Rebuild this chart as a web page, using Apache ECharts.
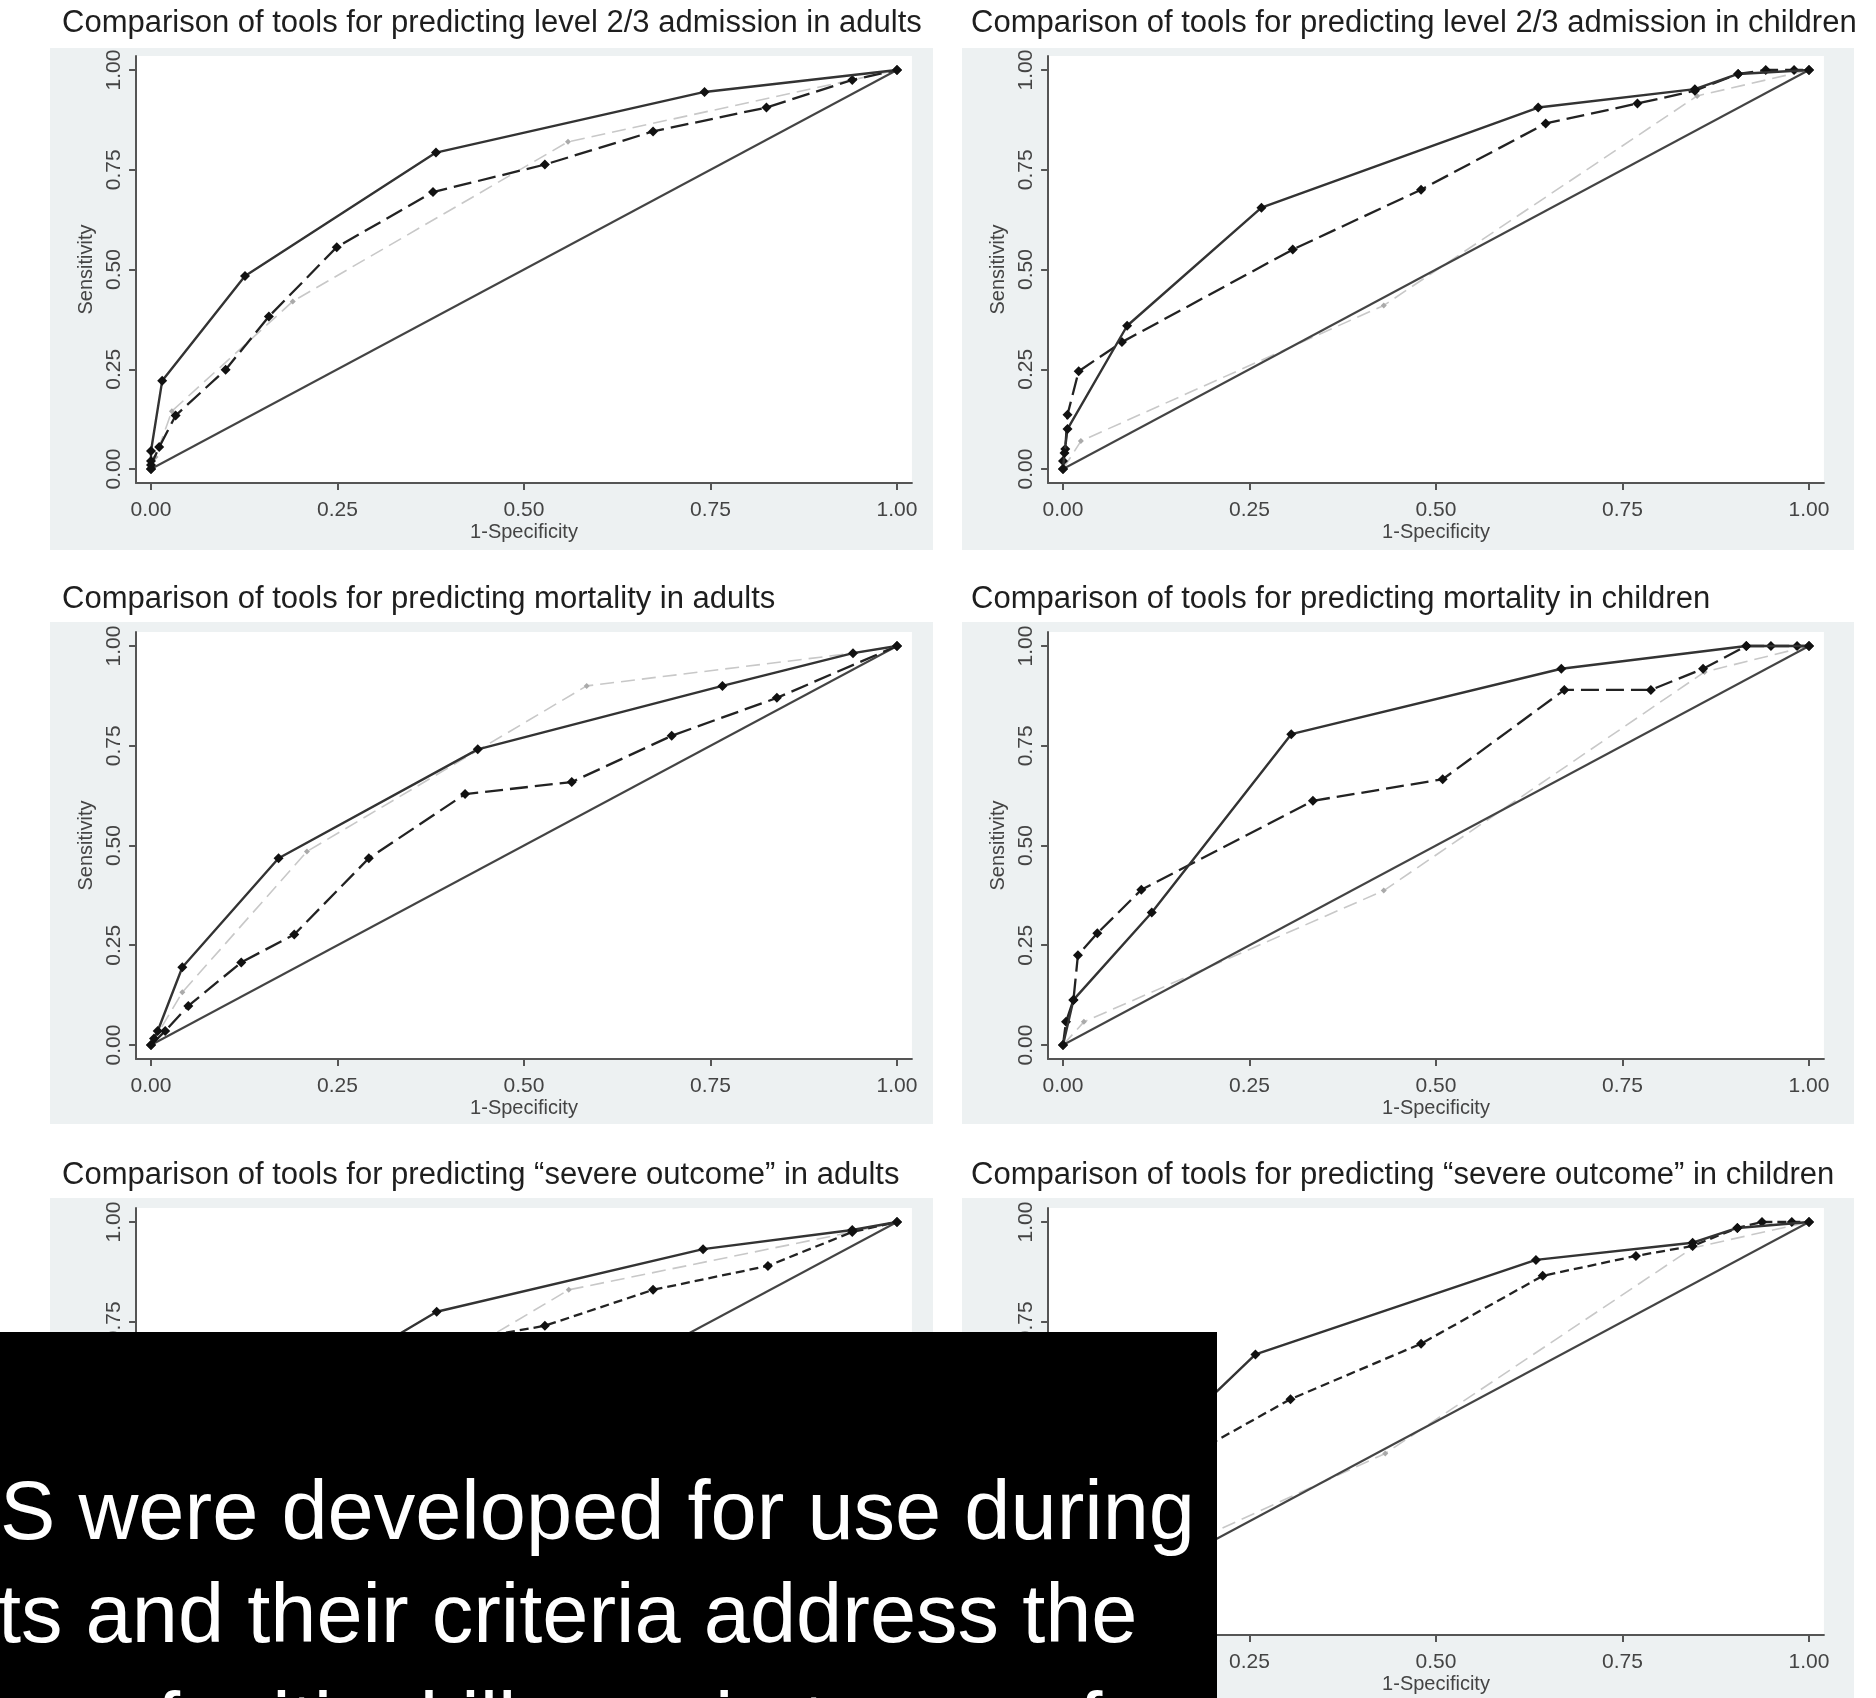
<!DOCTYPE html>
<html>
<head>
<meta charset="utf-8">
<title>Comparison of triage tools - ROC curves</title>
<script src="https://cdn.jsdelivr.net/npm/echarts@6/dist/echarts.min.js"></script>
<style>
  html, body { margin: 0; padding: 0; background: #fff; }
  #main { width: 1876px; height: 1698px; }
</style>
</head>
<body>
<div id="main"></div>
<script>
// tick labels on both axes
var tickValues = [0, 0.25, 0.5, 0.75, 1];

var panelTitles = [
  'Comparison of tools for predicting level 2/3 admission in adults',
  'Comparison of tools for predicting level 2/3 admission in children',
  'Comparison of tools for predicting mortality in adults',
  'Comparison of tools for predicting mortality in children',
  'Comparison of tools for predicting \u201csevere outcome\u201d in adults',
  'Comparison of tools for predicting \u201csevere outcome\u201d in children'
];

// chance line
var refLine = [[0, 0], [1, 1]];

// [1-specificity, sensitivity]
// level 2/3 admission, adults
var solidA1 = [[0, 0], [0, 0.02], [0, 0.045], [0.015, 0.221], [0.126, 0.484], [0.382, 0.793], [0.742, 0.945], [1, 1]];
var dashedA1 = [[0, 0], [0, 0.01], [0.011, 0.055], [0.033, 0.134], [0.1, 0.249], [0.158, 0.382], [0.249, 0.556], [0.378, 0.694], [0.528, 0.763], [0.673, 0.846], [0.825, 0.906], [0.94, 0.975], [1, 1]];
var grayA1 = [[0, 0], [0.006, 0.03], [0.028, 0.145], [0.19, 0.42], [0.559, 0.82], [0.94, 0.975], [1, 1]];

// level 2/3 admission, children
var solidC1 = [[0, 0], [0.002, 0.04], [0.006, 0.1], [0.086, 0.359], [0.266, 0.655], [0.637, 0.906], [0.847, 0.952], [0.905, 0.99], [1, 1]];
var dashedC1 = [[0, 0], [0, 0.02], [0.003, 0.05], [0.006, 0.136], [0.021, 0.245], [0.079, 0.318], [0.308, 0.55], [0.48, 0.7], [0.647, 0.866], [0.77, 0.916], [0.847, 0.948], [0.905, 0.99], [0.942, 1], [0.98, 1], [1, 1]];
var grayC1 = [[0, 0], [0.024, 0.07], [0.43, 0.41], [0.85, 0.935], [1, 1]];

// mortality, adults
var solidA2 = [[0, 0], [0.004, 0.016], [0.009, 0.035], [0.042, 0.195], [0.171, 0.468], [0.438, 0.741], [0.766, 0.9], [0.941, 0.982], [1, 1]];
var dashedA2 = [[0, 0], [0.019, 0.035], [0.05, 0.098], [0.121, 0.207], [0.192, 0.277], [0.292, 0.468], [0.421, 0.629], [0.564, 0.659], [0.698, 0.775], [0.839, 0.87], [1, 1]];
var grayA2 = [[0, 0], [0.042, 0.132], [0.209, 0.485], [0.584, 0.9], [0.941, 0.982], [1, 1]];

// mortality, children
var solidC2 = [[0, 0], [0.014, 0.113], [0.119, 0.332], [0.306, 0.779], [0.668, 0.943], [0.916, 1], [1, 1]];
var dashedC2 = [[0, 0], [0.004, 0.058], [0.014, 0.113], [0.02, 0.225], [0.046, 0.28], [0.105, 0.389], [0.335, 0.612], [0.509, 0.666], [0.672, 0.89], [0.788, 0.89], [0.858, 0.943], [0.916, 1], [0.949, 1], [0.984, 1], [1, 1]];
var grayC2 = [[0, 0], [0.028, 0.058], [0.43, 0.387], [0.86, 0.935], [1, 1]];

// severe outcome, adults
var solidA3 = [[0, 0], [0, 0.045], [0.015, 0.22], [0.126, 0.49], [0.383, 0.775], [0.74, 0.932], [0.94, 0.98], [1, 1]];
var dashedA3 = [[0, 0], [0.011, 0.055], [0.033, 0.134], [0.1, 0.25], [0.158, 0.38], [0.249, 0.55], [0.378, 0.69], [0.528, 0.74], [0.673, 0.83], [0.827, 0.89], [0.94, 0.975], [1, 1]];
var grayA3 = [[0, 0], [0.028, 0.14], [0.19, 0.42], [0.56, 0.83], [0.94, 0.975], [1, 1]];

// severe outcome, children
var solidC3 = [[0, 0], [0.006, 0.1], [0.086, 0.36], [0.258, 0.668], [0.634, 0.905], [0.844, 0.948], [0.904, 0.985], [1, 1]];
var dashedC3 = [[0, 0], [0.006, 0.136], [0.021, 0.245], [0.079, 0.32], [0.305, 0.556], [0.48, 0.695], [0.643, 0.865], [0.768, 0.915], [0.844, 0.94], [0.904, 0.985], [0.937, 1], [0.977, 1], [1, 1]];
var grayC3 = [[0, 0], [0.024, 0.07], [0.432, 0.42], [0.844, 0.935], [1, 1]];

// overlay caption (slide text sitting on top of the figure)
var captionLines = [
  'S were developed for use during',
  'ts and their criteria address the',
  'ns of critical illness in terms of'
];

var panels = [
  { solid: solidA1, dashed: dashedA1, gray: grayA1 },
  { solid: solidC1, dashed: dashedC1, gray: grayC1 },
  { solid: solidA2, dashed: dashedA2, gray: grayA2 },
  { solid: solidC2, dashed: dashedC2, gray: grayC2 },
  { solid: solidA3, dashed: dashedA3, gray: grayA3 },
  { solid: solidC3, dashed: dashedC3, gray: grayC3 }
];

var chartDom = document.getElementById('main');
var myChart = echarts.init(chartDom);

// layout (pixels)
var colX0 = [151, 1063];   // where x = 0 sits
var rowY1 = [70, 646, 1222]; // where y = 1 sits
var unitX = 746, unitY = 399;
var bgX = [50, 962], bgW = [883, 892];
var bgY = [48, 622, 1198];
var titleX = [62, 971];
var titleTop = [6, 582, 1158];

var FONT = '"Liberation Sans", Arial, Helvetica, sans-serif';

var grids = [], xAxes = [], yAxes = [], series = [], titles = [], graphics = [];

for (var r = 0; r < 3; r++) {
  graphics.push({ type: 'rect', z: -10, shape: { x: bgX[0], y: bgY[r], width: bgW[0], height: 502 }, style: { fill: '#edf1f2' } });
  graphics.push({ type: 'rect', z: -10, shape: { x: bgX[1], y: bgY[r], width: bgW[1], height: 502 }, style: { fill: '#edf1f2' } });
}

panels.forEach(function (p, i) {
  var c = i % 2, r = Math.floor(i / 2);
  grids.push({
    left: colX0[c] - 0.02 * unitX,
    top: rowY1[r] - 0.035 * unitY,
    width: 1.04 * unitX,
    height: 1.07 * unitY,
    show: true,
    backgroundColor: '#ffffff',
    borderWidth: 0
  });
  titles.push({
    text: panelTitles[i],
    left: titleX[c],
    top: titleTop[r],
    padding: 0,
    textStyle: { fontSize: 31, fontWeight: 'normal', color: '#1e1e1e', fontFamily: FONT, lineHeight: 35 }
  });
  xAxes.push({
    type: 'value', gridIndex: i, min: -0.02, max: 1.02,
    name: '1-Specificity', nameLocation: 'middle', nameGap: 40,
    nameTextStyle: { fontSize: 20, color: '#444', fontFamily: FONT },
    axisLine: { show: true, onZero: false, lineStyle: { color: '#555', width: 2 } },
    axisTick: { show: true, customValues: tickValues, length: 7, lineStyle: { color: '#555', width: 2 } },
    axisLabel: { customValues: tickValues, fontSize: 21, color: '#444', margin: 17, fontFamily: FONT,
      formatter: function (v) { return v.toFixed(2); } },
    splitLine: { show: false }
  });
  yAxes.push({
    type: 'value', gridIndex: i, min: -0.035, max: 1.035,
    name: 'Sensitivity', nameLocation: 'middle', nameGap: 40, nameRotate: 90,
    nameTextStyle: { fontSize: 20, color: '#444', fontFamily: FONT },
    axisLine: { show: true, onZero: false, lineStyle: { color: '#555', width: 2 } },
    axisTick: { show: true, customValues: tickValues, length: 7, lineStyle: { color: '#555', width: 2 } },
    axisLabel: { customValues: tickValues, rotate: 90, fontSize: 21, color: '#444', margin: 11, fontFamily: FONT,
      formatter: function (v) { return v.toFixed(2); } },
    splitLine: { show: false }
  });

  var dash = r === 2 ? [9, 5] : [18, 7];
  series.push({
    type: 'line', xAxisIndex: i, yAxisIndex: i, data: p.gray, z: 2,
    symbol: 'diamond', symbolSize: 6,
    lineStyle: { color: '#c8c8c8', width: 1.6, type: [14, 7] },
    itemStyle: { color: '#aaaaaa' }
  });
  series.push({
    type: 'line', xAxisIndex: i, yAxisIndex: i, data: refLine, z: 3,
    symbol: 'none',
    lineStyle: { color: '#444', width: 2 }
  });
  series.push({
    type: 'line', xAxisIndex: i, yAxisIndex: i, data: p.dashed, z: 4,
    symbol: 'diamond', symbolSize: 10,
    lineStyle: { color: '#222', width: 2.3, type: dash },
    itemStyle: { color: '#111' }
  });
  series.push({
    type: 'line', xAxisIndex: i, yAxisIndex: i, data: p.solid, z: 5,
    symbol: 'diamond', symbolSize: 10,
    lineStyle: { color: '#333', width: 2.4 },
    itemStyle: { color: '#111' }
  });
});

// black caption box over the bottom-left
graphics.push({ type: 'rect', z: 100, shape: { x: 0, y: 1332, width: 1217, height: 366 }, style: { fill: '#000' } });
var captionX = [0, -2, 0];
var captionY = [1516, 1619, 1728];
captionLines.forEach(function (t, k) {
  graphics.push({
    type: 'text', z: 101, x: captionX[k], y: captionY[k],
    style: { text: t, fill: '#fff', font: '83px ' + FONT, align: 'left', verticalAlign: 'middle' }
  });
});

var option = {
  animation: false,
  backgroundColor: '#ffffff',
  textStyle: { fontFamily: FONT },
  title: titles,
  grid: grids,
  xAxis: xAxes,
  yAxis: yAxes,
  series: series,
  graphic: graphics
};

option && myChart.setOption(option);
window.addEventListener('resize', function () {
  myChart.resize();
});
</script>
</body>
</html>
